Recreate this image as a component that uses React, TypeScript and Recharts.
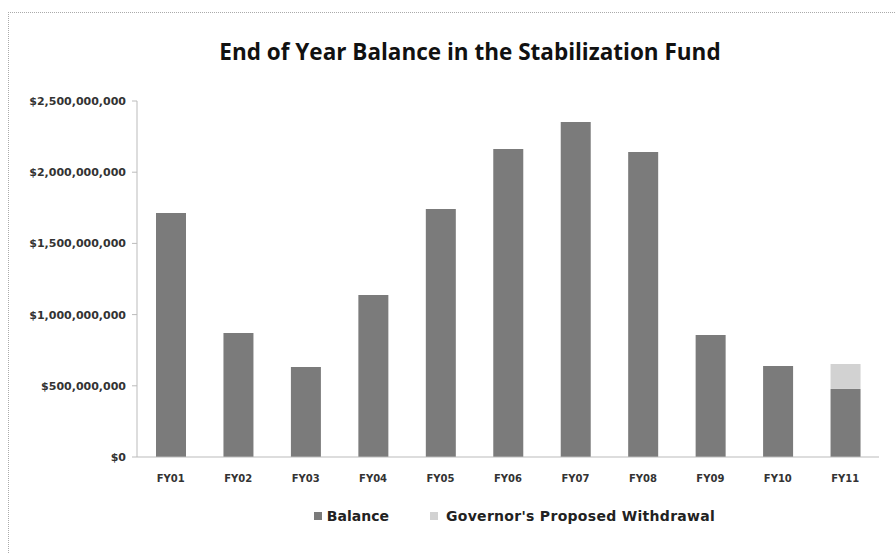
import React from "react";
import { BarChart, Bar, XAxis, YAxis, Legend } from "recharts";

const categories = ["FY01", "FY02", "FY03", "FY04", "FY05", "FY06", "FY07", "FY08", "FY09", "FY10", "FY11"];
const balance = [1713000000, 871000000, 632000000, 1138000000, 1742000000, 2163000000, 2353000000, 2142000000, 857000000, 639000000, 478000000];
const withdrawal = [0, 0, 0, 0, 0, 0, 0, 0, 0, 0, 175000000];
const yTicks = [0, 500000000, 1000000000, 1500000000, 2000000000, 2500000000];

const data = categories.map((c, i) => ({ name: c, balance: balance[i], withdrawal: withdrawal[i] }));

const fmt = (v: number) => "$" + v.toLocaleString("en-US");

const DARK = "#7b7b7b";
const LIGHT = "#d2d2d2";

const LegendContent = () => (
  <div style={{ display: "flex", justifyContent: "center", alignItems: "center", height: 37, fontFamily: "DejaVu Sans", fontWeight: "bold", fontSize: 14, color: "#222", paddingLeft: 150 }}>
    <span style={{ display: "inline-block", width: 8, height: 8, background: DARK, marginRight: 5 }} />
    <span style={{ marginRight: 41 }}>Balance</span>
    <span style={{ display: "inline-block", width: 8, height: 8, background: LIGHT, marginRight: 8 }} />
    <span style={{ letterSpacing: 0.3 }}>Governor's Proposed Withdrawal</span>
  </div>
);

export default function App() {
  return (
    <div style={{ position: "absolute", left: 0, top: 0, width: 896, height: 554, background: "#fff" }}>
      <div style={{ position: "absolute", left: 8, top: 12, width: 888, height: 542, borderLeft: "1px dotted #aaa", borderTop: "1px dotted #aaa" }} />
      <div style={{ position: "absolute", left: 0, top: 36, width: 940, textAlign: "center", fontFamily: "Open Sans", fontWeight: "bold", fontSize: 22.5, color: "#111" }}>
        End of Year Balance in the Stabilization Fund
      </div>
      <BarChart width={896} height={554} data={data} margin={{ top: 101, right: 17, left: 0, bottom: 20 }} barSize={30}>
        <XAxis dataKey="name" height={40} tickLine={false} axisLine={{ stroke: "#bbb" }} tick={{ fontFamily: "DejaVu Sans", fontWeight: "bold", fontSize: 10, fill: "#333" }} tickMargin={12} />
        <YAxis width={137} domain={[0, 2500000000]} ticks={yTicks} tickFormatter={fmt} axisLine={{ stroke: "#bbb" }} tickLine={{ stroke: "#bbb" }} tickSize={5} tickMargin={6} tick={{ fontFamily: "DejaVu Sans", fontWeight: "bold", fontSize: 11, fill: "#333" }} interval={0} />
        <Legend verticalAlign="bottom" height={37} content={<LegendContent />} />
        <Bar dataKey="balance" stackId="a" fill={DARK} isAnimationActive={false} />
        <Bar dataKey="withdrawal" stackId="a" fill={LIGHT} isAnimationActive={false} />
      </BarChart>
    </div>
  );
}
